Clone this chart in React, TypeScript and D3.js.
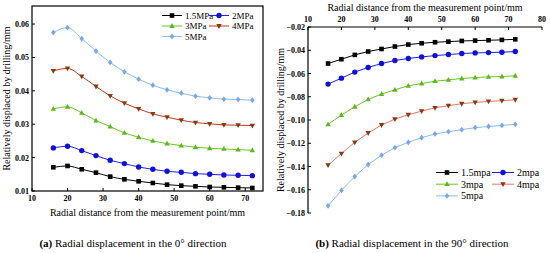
import React from "react";
import * as d3 from "d3";

const distances = [16, 20, 24, 28, 32, 36, 40, 44, 48, 52, 56, 60, 64, 68, 72];

const leftNames = ["1.5MPa", "2MPa", "3MPa", "4MPa", "5MPa"];
const left15 = [0.0171, 0.0175, 0.0165, 0.0155, 0.0143, 0.0135, 0.0129, 0.0124, 0.0119, 0.0116, 0.0114, 0.0112, 0.0111, 0.011, 0.0109];
const left2 = [0.0229, 0.0234, 0.0221, 0.0206, 0.0192, 0.0182, 0.0172, 0.0165, 0.0159, 0.0156, 0.0152, 0.015, 0.0148, 0.0147, 0.0146];
const left3 = [0.0346, 0.0352, 0.0334, 0.0311, 0.0293, 0.0274, 0.0261, 0.025, 0.0242, 0.0236, 0.0231, 0.0228, 0.0226, 0.0224, 0.0222];
const left4 = [0.046, 0.0467, 0.0443, 0.0413, 0.0385, 0.0363, 0.0346, 0.0331, 0.0321, 0.0312, 0.0305, 0.0301, 0.0298, 0.0297, 0.0296];
const left5 = [0.0575, 0.0589, 0.0556, 0.0519, 0.0485, 0.0457, 0.0435, 0.0417, 0.0403, 0.0393, 0.0384, 0.0379, 0.0375, 0.0374, 0.0372];

const rightNames = ["1.5mpa", "2mpa", "3mpa", "4mpa", "5mpa"];
const right15 = [-0.0514, -0.0477, -0.044, -0.0411, -0.0389, -0.0368, -0.0351, -0.034, -0.0331, -0.0326, -0.032, -0.0317, -0.0314, -0.0311, -0.0306];
const right2 = [-0.0691, -0.064, -0.0588, -0.0548, -0.0514, -0.0488, -0.0471, -0.0457, -0.0446, -0.0437, -0.0428, -0.0423, -0.042, -0.0417, -0.0411];
const right3 = [-0.1037, -0.0957, -0.0886, -0.0823, -0.0777, -0.074, -0.0706, -0.0686, -0.0666, -0.0655, -0.0643, -0.0635, -0.0629, -0.0626, -0.062];
const right4 = [-0.1389, -0.1289, -0.1192, -0.1112, -0.1043, -0.0992, -0.0955, -0.0923, -0.0895, -0.0877, -0.086, -0.0849, -0.084, -0.0834, -0.0826];
const right5 = [-0.1738, -0.1606, -0.1486, -0.1383, -0.1303, -0.1238, -0.1192, -0.1152, -0.112, -0.11, -0.1083, -0.1066, -0.1056, -0.1047, -0.1037];

const leftXTicks = [10, 20, 30, 40, 50, 60, 70];
const leftYTicks = [0.01, 0.02, 0.03, 0.04, 0.05, 0.06];
const rightXTicks = [10, 20, 30, 40, 50, 60, 70, 80];
const rightYTicks = [-0.02, -0.04, -0.06, -0.08, -0.1, -0.12, -0.14, -0.16, -0.18];

const xTitle = "Radial distance from the measurement point/mm";
const yTitle = "Relatively displaced by drilling/mm";
const captionA = ["(a)", " Radial displacement in the 0° direction"];
const captionB = ["(b)", " Radial displacement in the 90° direction"];

type Style = { line: string; marker: string; shape: string };
const leftStyles: Style[] = [
  { line: "#000000", marker: "#000000", shape: "square" },
  { line: "#2020ee", marker: "#1010d8", shape: "circle" },
  { line: "#6cc52a", marker: "#5cb81c", shape: "triangle" },
  { line: "#c03a1a", marker: "#8a3a10", shape: "triangleDown" },
  { line: "#8cbcf0", marker: "#78a8e8", shape: "diamond" },
];
const rightStyles: Style[] = [
  { line: "#000000", marker: "#000000", shape: "square" },
  { line: "#2020ee", marker: "#1010d8", shape: "circle" },
  { line: "#6cc52a", marker: "#5cb81c", shape: "triangle" },
  { line: "#e87868", marker: "#8a3a10", shape: "triangleDown" },
  { line: "#8cbcf0", marker: "#78a8e8", shape: "diamond" },
];

const SERIF = "Liberation Serif, Times New Roman, Times, DejaVu Serif, serif";
const T = (size: number, bold = false): React.CSSProperties => ({
  fontFamily: SERIF,
  fontSize: size + "px",
  fontWeight: bold ? "bold" : "normal",
});

function Marker({ x, y, s }: { x: number; y: number; s: Style }) {
  const r = 2.3;
  if (s.shape === "square") return <rect x={x - r} y={y - r} width={2 * r} height={2 * r} fill={s.marker} />;
  if (s.shape === "circle") return <circle cx={x} cy={y} r={r + 0.4} fill={s.marker} />;
  if (s.shape === "triangle")
    return <path d={`M${x},${y - r - 0.6}L${x + r + 0.4},${y + r - 0.4}L${x - r - 0.4},${y + r - 0.4}Z`} fill={s.marker} />;
  if (s.shape === "triangleDown")
    return <path d={`M${x},${y + r + 0.6}L${x + r + 0.4},${y - r + 0.4}L${x - r - 0.4},${y - r + 0.4}Z`} fill={s.marker} />;
  return <path d={`M${x},${y - r - 0.6}L${x + r},${y}L${x},${y + r + 0.6}L${x - r},${y}Z`} fill={s.marker} />;
}

function LeftChart() {
  const x = d3.scaleLinear().domain([10, 75]).range([32, 263]);
  const y = d3.scaleLinear().domain([0.01, 0.0654]).range([191, 6]);
  const series = [left15, left2, left3, left4, left5];
  const line = d3
    .line<number>()
    .x((_, i) => x(distances[i]))
    .y((v) => y(v))
    .curve(d3.curveMonotoneX);
  const legendRows = [
    [0, 1],
    [2, 3],
    [4],
  ];
  return (
    <g>
      {series.map((vals, k) => (
        <g key={k}>
          <path d={line(vals) || ""} fill="none" stroke={leftStyles[k].line} strokeWidth={1} />
          {vals.map((v, i) => (
            <Marker key={i} x={x(distances[i])} y={y(v)} s={leftStyles[k]} />
          ))}
        </g>
      ))}
      <rect x={32} y={6} width={231} height={185} fill="none" stroke="#000" strokeWidth={1.2} />
      {leftXTicks.map((t) => (
        <g key={t}>
          <line x1={x(t)} x2={x(t)} y1={191} y2={188} stroke="#000" />
          <text x={x(t)} y={201} textAnchor="middle" style={T(8, true)}>
            {t}
          </text>
        </g>
      ))}
      {leftYTicks.map((t) => (
        <g key={t}>
          <line x1={32} x2={35} y1={y(t)} y2={y(t)} stroke="#000" />
          <text x={29} y={y(t) + 3} textAnchor="end" style={T(8, true)}>
            {t.toFixed(2)}
          </text>
        </g>
      ))}
      <text x={147.5} y={216} textAnchor="middle" style={T(10)}>
        {xTitle}
      </text>
      <text transform="translate(10,98.5) rotate(-90)" textAnchor="middle" style={T(10)}>
        {yTitle}
      </text>
      {legendRows.map((row, r) =>
        row.map((k, c) => {
          const lx = 162 + c * 47;
          const ly = 15.5 + r * 10.5;
          return (
            <g key={k}>
              <line x1={lx} x2={lx + 20} y1={ly} y2={ly} stroke={leftStyles[k].line} strokeWidth={1} />
              <Marker x={lx + 10} y={ly} s={leftStyles[k]} />
              <text x={lx + 23} y={ly + 3} style={T(9)}>
                {leftNames[k]}
              </text>
            </g>
          );
        })
      )}
      <text x={133} y={247} textAnchor="middle" style={T(11)}>
        <tspan fontWeight="bold">{captionA[0]}</tspan>
        <tspan>{captionA[1]}</tspan>
      </text>
    </g>
  );
}

function RightChart() {
  const x = d3.scaleLinear().domain([10, 80]).range([308, 542]);
  const y = d3.scaleLinear().domain([-0.02, -0.18]).range([27, 213]);
  const series = [right15, right2, right3, right4, right5];
  const line = d3
    .line<number>()
    .x((_, i) => x(distances[i]))
    .y((v) => y(v));
  const legendRows = [
    [0, 1],
    [2, 3],
    [4],
  ];
  return (
    <g>
      {series.map((vals, k) => (
        <g key={k}>
          <path d={line(vals) || ""} fill="none" stroke={rightStyles[k].line} strokeWidth={1} />
          {vals.map((v, i) => (
            <Marker key={i} x={x(distances[i])} y={y(v)} s={rightStyles[k]} />
          ))}
        </g>
      ))}
      <line x1={308} x2={542} y1={27} y2={27} stroke="#000" strokeWidth={1.2} />
      <line x1={308} x2={308} y1={27} y2={213} stroke="#000" strokeWidth={1.2} />
      {rightXTicks.map((t) => (
        <g key={t}>
          <line x1={x(t)} x2={x(t)} y1={27} y2={30} stroke="#000" />
          <text x={x(t)} y={22} textAnchor="middle" style={T(8, true)}>
            {t}
          </text>
        </g>
      ))}
      {rightYTicks.map((t) => (
        <g key={t}>
          <line x1={308} x2={311} y1={y(t)} y2={y(t)} stroke="#000" />
          <text x={305} y={y(t) + 3} textAnchor="end" style={T(8, true)}>
            {"\u2212" + Math.abs(t).toFixed(2)}
          </text>
        </g>
      ))}
      <text x={425} y={11} textAnchor="middle" style={T(10)}>
        {xTitle}
      </text>
      <text transform="translate(284,120) rotate(-90)" textAnchor="middle" style={T(10)}>
        {yTitle}
      </text>
      {legendRows.map((row, r) =>
        row.map((k, c) => {
          const lx = 436 + c * 56;
          const ly = 172.5 + r * 11.7;
          return (
            <g key={k}>
              <line x1={lx} x2={lx + 22} y1={ly} y2={ly} stroke={rightStyles[k].line} strokeWidth={1} />
              <Marker x={lx + 11} y={ly} s={rightStyles[k]} />
              <text x={lx + 25} y={ly + 3.5} style={T(10)}>
                {rightNames[k]}
              </text>
            </g>
          );
        })
      )}
      <text x={412} y={247} textAnchor="middle" style={T(11)}>
        <tspan fontWeight="bold">{captionB[0]}</tspan>
        <tspan>{captionB[1]}</tspan>
      </text>
    </g>
  );
}

export default function App() {
  return (
    <svg
      width={550}
      height={253}
      style={{ position: "absolute", left: 0, top: 0, background: "#fff" }}
    >
      <rect width={550} height={253} fill="#fff" />
      <LeftChart />
      <RightChart />
    </svg>
  );
}
